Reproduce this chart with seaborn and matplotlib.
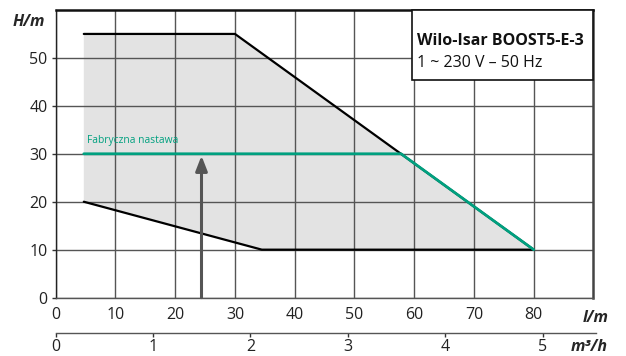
import matplotlib
matplotlib.use("Agg")
import matplotlib.pyplot as plt
import numpy as np
import pandas as pd
import seaborn as sns
from matplotlib.patches import Rectangle

# granice pola pracy pompy (Q w l/min, H w m)
upper_q = [4.7, 30, 80]
upper_h = [55, 55, 10]
lower_q = [4.7, 34.5, 80]
lower_h = [20, 10, 10]
# nastawa fabryczna
factory_q = [4.7, 57.8, 80]
factory_h = [30, 30, 10]
arrow_q = 24.4
arrow_h = [0, 29.6]

x_ticks = list(range(0, 90, 10))
y_ticks = list(range(0, 60, 10))
m3h_ticks = [0, 1, 2, 3, 4, 5]
lpm_per_m3h = 16.3  # tak jak na rysunku

title = "Wilo-Isar BOOST5-E-3"
subtitle = "1 ~ 230 V – 50 Hz"

green = "#00a07f"
grid_col = "#555555"
fs = 11.5

sns.set_style("white")
plt.rcParams['font.family'] = ['Open Sans', 'DejaVu Sans']

fig = plt.figure(figsize=(6.26, 3.56), dpi=100)
ax = fig.add_axes([0.089, 0.164, 0.859, 0.808])

# pole pracy
poly_q = upper_q + lower_q[::-1]
poly_h = upper_h + lower_h[::-1]
ax.fill(poly_q, poly_h, color="#e3e3e3", lw=0, zorder=1)

up = pd.DataFrame({"Q": upper_q, "H": upper_h})
lo = pd.DataFrame({"Q": lower_q, "H": lower_h})
fa = pd.DataFrame({"Q": factory_q, "H": factory_h})
sns.lineplot(data=up, x="Q", y="H", color="black", lw=1.6, sort=False, ax=ax, zorder=3)
sns.lineplot(data=lo, x="Q", y="H", color="black", lw=1.6, sort=False, ax=ax, zorder=3)
sns.lineplot(data=fa, x="Q", y="H", color=green, lw=2.0, sort=False, ax=ax, zorder=4)

ax.annotate("", xy=(arrow_q, arrow_h[1]), xytext=(arrow_q, arrow_h[0]),
            arrowprops=dict(arrowstyle="-|>,head_length=0.9,head_width=0.35",
                            color="#555555", lw=2.2, shrinkA=0, shrinkB=0),
            zorder=5)
ax.text(factory_q[0] + 0.5, factory_h[0] + 1.6, "Fabryczna nastawa", color=green,
        fontsize=7.4, va="bottom", ha="left", zorder=5)

ax.set_xlim(0, 90)
ax.set_ylim(0, 60)
ax.set_xticks(x_ticks)
ax.set_yticks(y_ticks)
ax.grid(True, color=grid_col, lw=1.0, zorder=2)
ax.set_axisbelow(False)
for line in ax.get_xgridlines() + ax.get_ygridlines():
    line.set_zorder(2)
ax.set_xlabel("")
ax.set_ylabel("")
ax.tick_params(axis="x", bottom=False, length=0, pad=7, labelsize=fs,
               labelcolor="#222222")
ax.tick_params(axis="y", left=True, length=3, width=1, color="#333333", pad=3,
               labelsize=fs, labelcolor="#222222")

ax.spines["left"].set_color("#222222")
ax.spines["left"].set_linewidth(1.0)
ax.spines["bottom"].set_color(grid_col)
ax.spines["bottom"].set_linewidth(1.0)
ax.spines["top"].set_color("#111111")
ax.spines["top"].set_linewidth(1.8)
ax.spines["right"].set_color("#444444")
ax.spines["right"].set_linewidth(1.8)
for s in ax.spines.values():
    s.set_visible(True)
    s.set_zorder(6)

# ramka z opisem
ax.add_patch(Rectangle((0.663, 0.757), 0.337, 0.243, transform=ax.transAxes,
                       facecolor="white", edgecolor="#111111", lw=1.2, zorder=7,
                       clip_on=False))
ax.text(0.672, 0.893, title, transform=ax.transAxes, fontsize=fs, fontweight="bold",
        ha="left", va="center", color="#111111", zorder=8)
ax.text(0.672, 0.815, subtitle, transform=ax.transAxes, fontsize=fs,
        ha="left", va="center", color="#111111", zorder=8)

# opisy osi
ax.text(-0.081, 0.958, "H/m", transform=ax.transAxes, fontsize=fs,
        fontweight="bold", style="italic", ha="left", va="center")
ax.text(0.98, -0.07, "l/m", transform=ax.transAxes, fontsize=fs,
        fontweight="bold", style="italic", ha="left", va="center")

# druga oś: m³/h
sec = ax.secondary_xaxis(-0.123, functions=(lambda q: q / lpm_per_m3h,
                                            lambda m: m * lpm_per_m3h))
sec.set_xticks(m3h_ticks)
sec.tick_params(axis="x", bottom=True, direction="out", length=3, width=1,
                color="#333333", pad=1.5, labelsize=fs, labelcolor="#222222")
sec.spines["bottom"].set_color(grid_col)
sec.spines["bottom"].set_linewidth(1.0)
sec.spines["bottom"].set_bounds(0, 5.55)
ax.text(0.958, -0.172, "m³/h", transform=ax.transAxes, fontsize=fs,
        fontweight="bold", style="italic", ha="left", va="center")

fig.savefig("out.png", dpi=100)
